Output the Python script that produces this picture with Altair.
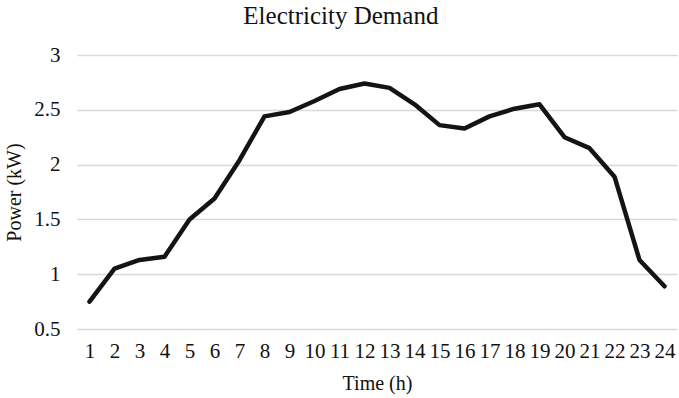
import altair as alt
import pandas as pd

hours = [str(h) for h in range(1, 25)]
power_kw = [0.75, 1.05, 1.13, 1.16, 1.50, 1.69, 2.04, 2.44, 2.48, 2.58, 2.69, 2.74,
            2.70, 2.55, 2.36, 2.33, 2.44, 2.51, 2.55, 2.25, 2.15, 1.89, 1.13, 0.89]

df = pd.DataFrame({"hour": hours, "power": power_kw})

FONT = "Liberation Serif"
INK = "#111111"

chart = (
    alt.Chart(df)
    .mark_line(color="#141414", strokeWidth=4.5, strokeJoin="round", strokeCap="round")
    .encode(
        x=alt.X(
            "hour:O",
            sort=hours,
            title="Time (h)",
            scale=alt.Scale(type="point", padding=0.5),
            axis=alt.Axis(
                labelAngle=0,
                labelFont=FONT,
                labelFontSize=21,
                labelColor=INK,
                labelPadding=11,
                ticks=False,
                domain=False,
                grid=False,
                titleFont=FONT,
                titleFontSize=20,
                titleFontWeight="normal",
                titleColor=INK,
                titlePadding=12,
            ),
        ),
        y=alt.Y(
            "power:Q",
            title="Power (kW)",
            scale=alt.Scale(domain=[0.5, 3], nice=False, zero=False),
            axis=alt.Axis(
                values=[0.5, 1, 1.5, 2, 2.5, 3],
                labelExpr="datum.value",
                labelFont=FONT,
                labelFontSize=21,
                labelColor=INK,
                labelPadding=17,
                ticks=False,
                domain=False,
                gridColor="#d9d9d9",
                gridWidth=1.5,
                titleFont=FONT,
                titleFontSize=20,
                titleFontWeight="normal",
                titleColor=INK,
                titlePadding=9,
            ),
        ),
    )
    .properties(
        width=600,
        height=274,
        title=alt.TitleParams(
            "Electricity  Demand", fontSize=25, fontWeight="normal", font=FONT,
            color=INK, offset=15, anchor="middle", frame="bounds",
        ),
        autosize=alt.AutoSizeParams(type="none"),
        padding={"left": 77, "top": 55, "right": 2, "bottom": 69},
        background="white",
    )
    .configure_view(stroke=None)
)

chart.save("out.html", embed_options={"renderer": "svg", "actions": False})
